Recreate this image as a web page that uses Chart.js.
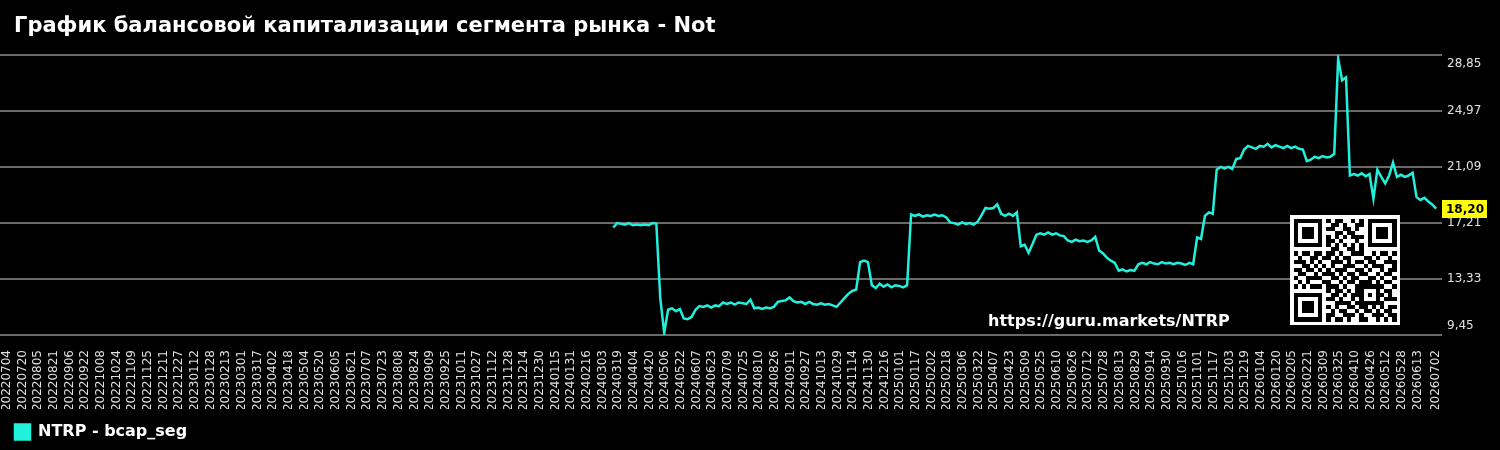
<!DOCTYPE html>
<html>
<head>
<meta charset="utf-8">
<title>NTRP - bcap_seg</title>
<script src="https://cdn.jsdelivr.net/npm/chart.js@4.4.1/dist/chart.umd.min.js"></script>
<style>
  html, body { margin: 0; padding: 0; background: #000; }
  #wrap { width: 1500px; height: 450px; }
</style>
</head>
<body>
<div id="wrap"><canvas id="chart" width="1500" height="450"></canvas></div>
<script>
// Балансовая капитализация сегмента (шаг 4 дня)
const chartTitle = 'График балансовой капитализации сегмента рынка - Not';
const seriesName = 'NTRP - bcap_seg';
const siteUrl = 'https://guru.markets/NTRP';

const axisStart = '20220704';
const axisEnd = '20260702';
const tickStepDays = 16;

const seriesStart = '20240314';
const seriesStepDays = 4;
const bcapValues = [
  16.9, 17.2, 17.15, 17.1, 17.2, 17.05, 17.1, 17.05, 17.1, 17.05, 17.2, 17.15,
  12.0, 9.6, 11.2, 11.3, 11.1, 11.25, 10.6, 10.55, 10.7, 11.2, 11.45, 11.4,
  11.5, 11.35, 11.5, 11.45, 11.7, 11.6, 11.7, 11.55, 11.7, 11.65, 11.6, 11.9,
  11.3, 11.35, 11.25, 11.35, 11.3, 11.4, 11.75, 11.8, 11.85, 12.05, 11.8, 11.7,
  11.75, 11.6, 11.75, 11.6, 11.55, 11.65, 11.55, 11.6, 11.5, 11.4, 11.7, 12.0,
  12.3, 12.5, 12.6, 14.5, 14.6, 14.5, 12.9, 12.7, 13.0, 12.8, 12.95, 12.75,
  12.9, 12.85, 12.75, 12.9, 17.8, 17.7, 17.8, 17.65, 17.75, 17.7, 17.8, 17.7,
  17.75, 17.6, 17.25, 17.2, 17.1, 17.25, 17.15, 17.2, 17.1, 17.3, 17.75, 18.25,
  18.2, 18.25, 18.5, 17.85, 17.7, 17.85, 17.7, 17.95, 15.6, 15.7, 15.15, 15.75,
  16.4, 16.5, 16.4, 16.55, 16.4, 16.5, 16.35, 16.3, 16.0, 15.9, 16.05, 15.95,
  16.0, 15.9, 16.0, 16.25, 15.3, 15.1, 14.8, 14.6, 14.45, 13.9, 14.0, 13.85,
  13.95, 13.9, 14.35, 14.45, 14.35, 14.5, 14.4, 14.35, 14.5, 14.4, 14.45, 14.35,
  14.45, 14.4, 14.3, 14.45, 14.35, 16.2, 16.1, 17.7, 17.95, 17.85, 20.9, 21.1,
  21.0, 21.1, 20.95, 21.65, 21.7, 22.3, 22.55, 22.45, 22.35, 22.55, 22.5, 22.7,
  22.45, 22.6, 22.5, 22.4, 22.55, 22.4, 22.5, 22.35, 22.3, 21.5, 21.6, 21.8,
  21.7, 21.85, 21.75, 21.8, 22.0, 28.6, 27.1, 27.3, 20.5, 20.6, 20.5, 20.65,
  20.45, 20.6, 18.9, 20.9, 20.4, 19.95, 20.5, 21.4, 20.4, 20.55, 20.4, 20.5,
  20.7, 19.0, 18.8, 18.95, 18.7, 18.5, 18.2
];

const yTicks = [9.45, 13.33, 17.21, 21.09, 24.97, 28.85];

// QR-водяной знак (узор набран вручную)
const qrRows = [
  '1111111010110010101111111',
  '1000001001101001101000001',
  '1011101011001101001011101',
  '1011101000110110001011101',
  '1011101010101011101011101',
  '1000001011010001001000001',
  '1111111010101010101111111',
  '0000000001100110100000000',
  '1011011011010011100101101',
  '0100110110101100011010010',
  '1110101001110101101100111',
  '0011010101001110010111001',
  '1101101010111001101001011',
  '0110010111010110110010110',
  '1001111001101011001101001',
  '0101000110010110111010110',
  '1010111011101001111111001',
  '0000000010110101100010110',
  '1111111001101011101011010',
  '1000001011010010100010111',
  '1011101000111101111111000',
  '1011101010100110110101011',
  '1011101001011001011010110',
  '1000001011001110100111011',
  '1111111010110100110010101'
];

const CLR = {
  bg:    '#000000',
  line:  '#20f0dc',
  grid:  '#6a6a6a',
  tick:  '#e0e0e0',
  text:  '#ffffff',
  badge: '#ffff00',
  font:  "'DejaVu Sans', sans-serif",
};

function parseYmd(s) {
  return Date.UTC(+s.slice(0, 4), +s.slice(4, 6) - 1, +s.slice(6, 8));
}
function dayIndex(s) {
  return Math.round((parseYmd(s) - parseYmd(axisStart)) / 86400000);
}
function ymdOf(day) {
  const d = new Date(parseYmd(axisStart) + day * 86400000);
  return d.getUTCFullYear() + String(d.getUTCMonth() + 1).padStart(2, '0') + String(d.getUTCDate()).padStart(2, '0');
}

const lastDay = dayIndex(axisEnd);
const xTickDays = [];
for (let d = 0; d <= lastDay - tickStepDays; d += tickStepDays) xTickDays.push(d);
xTickDays.push(lastDay);
const xTickLabels = xTickDays.map(ymdOf);

const firstSeriesDay = dayIndex(seriesStart);
const points = bcapValues.map((v, i) => ({ x: firstSeriesDay + i * seriesStepDays, y: v }));

const fmt = v => v.toFixed(2).replace('.', ',');

const decorPlugin = {
  id: 'decor',
  beforeDraw(chart) {
    const { ctx, width, height } = chart;
    ctx.save();
    ctx.fillStyle = CLR.bg;
    ctx.fillRect(0, 0, width, height);
    ctx.fillStyle = CLR.text;
    ctx.font = 'bold 21px ' + CLR.font;
    ctx.textBaseline = 'alphabetic';
    ctx.textAlign = 'left';
    ctx.fillText(chartTitle, 14, 32);
    ctx.restore();
  },
  afterDraw(chart) {
    const { ctx } = chart;
    const y = chart.scales.y;
    ctx.save();
    // адрес сайта
    ctx.fillStyle = CLR.text;
    ctx.font = 'bold 16px ' + CLR.font;
    ctx.textBaseline = 'alphabetic';
    ctx.textAlign = 'left';
    ctx.fillText(siteUrl, 988, 326);
    // QR
    const qx = 1290, qy = 215, qs = 110, m = 4.12, pad = 3.5;
    ctx.fillStyle = '#ffffff';
    ctx.fillRect(qx, qy, qs, qs);
    ctx.fillStyle = '#000000';
    qrRows.forEach((row, r) => {
      for (let c = 0; c < row.length; c++) {
        if (row[c] === '1') {
          const x0 = Math.round(qx + pad + c * m), y0 = Math.round(qy + pad + r * m);
          const x1 = Math.round(qx + pad + (c + 1) * m), y1 = Math.round(qy + pad + (r + 1) * m);
          ctx.fillRect(x0, y0, x1 - x0, y1 - y0);
        }
      }
    });
    // последнее значение
    const last = bcapValues[bcapValues.length - 1];
    const py = y.getPixelForValue(last);
    ctx.fillStyle = CLR.badge;
    ctx.fillRect(y.left, Math.round(py) - 9, 45, 18);
    ctx.fillStyle = '#000000';
    ctx.font = 'bold 12px ' + CLR.font;
    ctx.textBaseline = 'middle';
    ctx.textAlign = 'center';
    ctx.fillText(fmt(last), y.left + 23, Math.round(py) + 1);
    ctx.restore();
  }
};

new Chart(document.getElementById('chart'), {
  type: 'line',
  data: {
    datasets: [{
      label: seriesName,
      data: points,
      borderColor: CLR.line,
      backgroundColor: CLR.line,
      borderWidth: 2.5,
      pointRadius: 0,
      tension: 0,
      fill: false,
    }]
  },
  options: {
    responsive: false,
    animation: false,
    devicePixelRatio: 1,
    layout: { padding: { top: 55, left: 0, right: 0, bottom: 0 } },
    plugins: {
      title: { display: false },
      tooltip: { enabled: false },
      legend: {
        position: 'bottom',
        align: 'start',
        labels: {
          color: CLR.text,
          font: { family: CLR.font, size: 16, weight: 'bold' },
          boxWidth: 15,
          boxHeight: 15,
          padding: 15,
        }
      }
    },
    scales: {
      x: {
        type: 'linear',
        min: -7,
        max: lastDay + 6,
        afterBuildTicks: s => { s.ticks = xTickDays.map(v => ({ value: v })); },
        afterFit: s => { s.height = 74; s.paddingLeft = 0; s.paddingRight = 0; },
        grid: { display: false, drawTicks: false },
        border: { display: false },
        ticks: {
          autoSkip: false,
          minRotation: 90,
          maxRotation: 90,
          padding: 15,
          color: CLR.tick,
          font: { family: CLR.font, size: 12 },
          callback: v => xTickLabels[xTickDays.indexOf(v)],
        }
      },
      y: {
        position: 'right',
        min: yTicks[0],
        max: yTicks[yTicks.length - 1],
        afterBuildTicks: s => { s.ticks = yTicks.map(v => ({ value: v })); },
        afterFit: s => { s.width = 58; },
        grid: { color: CLR.grid, lineWidth: 2, drawTicks: false },
        border: { display: false },
        ticks: {
          padding: 5,
          color: CLR.tick,
          font: { family: CLR.font, size: 12, lineHeight: 1.5 },
          callback: v => {
            const t = fmt(v);
            if (v === yTicks[yTicks.length - 1]) return ['', t];
            if (v === yTicks[0]) return [t, ''];
            return t;
          }
        }
      }
    }
  },
  plugins: [decorPlugin]
});
</script>
</body>
</html>
